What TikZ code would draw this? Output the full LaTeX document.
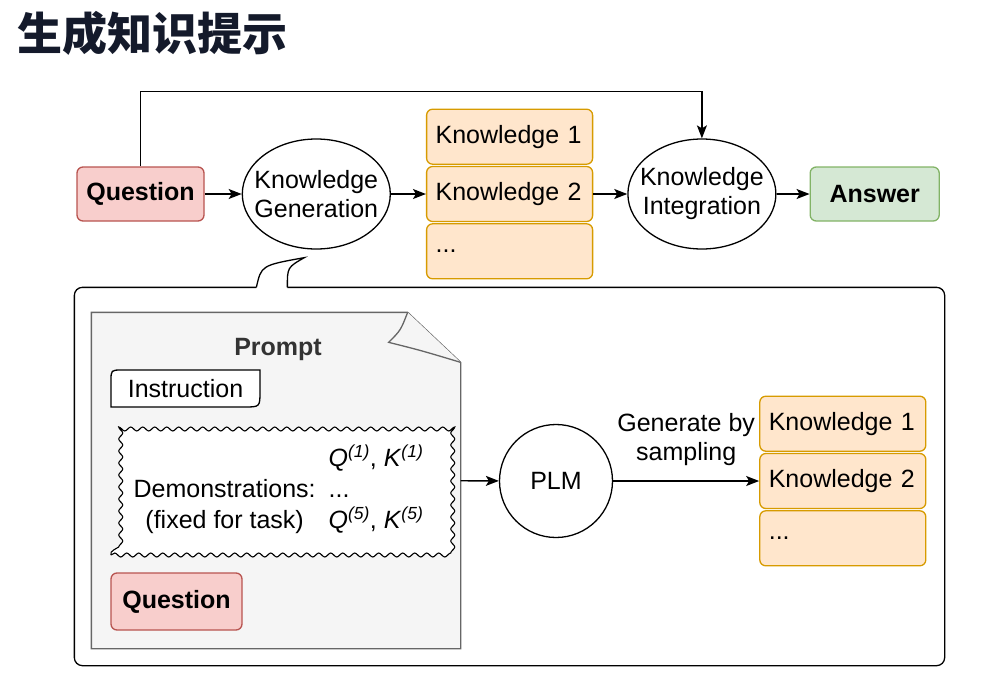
\documentclass[tikz,border=0pt]{standalone}
\usepackage{fontspec}
\setmainfont{Liberation Sans}
\newfontfamily\cjk{Noto Sans CJK SC}
\usetikzlibrary{arrows.meta,positioning,shapes.geometric,decorations.pathmorphing,calc}
\definecolor{qfill}{HTML}{F8CECC}
\definecolor{qline}{HTML}{B85450}
\definecolor{kfill}{HTML}{FFE6CC}
\definecolor{kline}{HTML}{D79B00}
\definecolor{afill}{HTML}{D5E8D4}
\definecolor{aline}{HTML}{82B366}
\definecolor{pfill}{HTML}{F5F5F5}
\definecolor{pline}{HTML}{666666}
\definecolor{ptext}{HTML}{333333}
\definecolor{titleink}{HTML}{141A2B}
\newcommand{\txt}{\fontsize{25}{29}\selectfont}
\newcommand{\qk}[1]{\textit{Q}\textsuperscript{\textit{(#1)}}, \textit{K}\textsuperscript{\textit{(#1)}}}

\begin{document}
\begin{tikzpicture}[x=1pt, y=-1pt, font=\txt, >={Stealth[length=13pt,width=10pt,inset=3pt]},
  line width=1.3pt,
  rbox/.style={rounded corners=6pt, minimum height=54pt, inner sep=0pt},
  qbox/.style={rbox, draw=qline, fill=qfill, minimum width=127pt, font=\txt\bfseries},
  abox/.style={rbox, draw=aline, fill=afill, minimum width=129pt, font=\txt\bfseries},
  kbox/.style={rbox, draw=kline, fill=kfill, minimum height=55pt, text width=148pt, inner xsep=9pt, align=left},
  proc/.style={ellipse, draw, minimum width=148pt, minimum height=110pt, inner xsep=-15pt, inner ysep=0pt, align=center},
  arr/.style={->}]
  \useasboundingbox (0,0) rectangle (994,686);
  \node[anchor=west, inner sep=0pt, text=titleink, font=\cjk\bfseries\fontsize{45}{45}\selectfont] (title) at (17,33) {生成知识提示};

  % top row
  \node[qbox] (q) at (140.5,194) {Question};
  \node[proc, right=37pt of q] (kg) {Knowledge\\Generation};
  \node[kbox, right=35pt of kg] (k2) {Knowledge 2};
  \node[kbox, above=1pt of k2] (k1) {Knowledge 1};
  \node[kbox, below=1pt of k2] (k3) {...};
  \node[proc, right=34pt of k2] (ki) {Knowledge\\Integration};
  \node[abox, right=33pt of ki] (ans) {Answer};
  \draw[arr] (q) -- (kg);
  \draw[arr] (kg) -- (k2);
  \draw[arr] (k2) -- (ki);
  \draw[arr] (ki) -- (ans);
  \draw[arr] (q.north) -- ++(0,-75) -| (ki.north);

  % callout under knowledge generation
  \node[minimum width=869pt, minimum height=377pt, inner sep=0pt] (detail) at (509.5,476.5) {};
  \coordinate (tl) at ($(detail.north west)+(182,0)$);
  \coordinate (tr) at ($(detail.north west)+(213,0)$);
  \coordinate (tip) at ($(kg.south)+(-12,8)$);
  \draw[rounded corners=8pt] (tr) -- (detail.north east) -- (detail.south east) -- (detail.south west) -- (detail.north west) -- (tl);
  \draw (tl) .. controls ($(tl)+(5,-22)$) .. (tip) .. controls ($(tr)+(0,-20)$) .. (tr);

  % prompt document
  \node[minimum width=368pt, minimum height=335pt, inner sep=0pt] (prompt) at (276,480.5) {};
  \filldraw[fill=pfill, draw=pline] (prompt.north west) -- ($(prompt.north east)+(-53,0)$) -- ($(prompt.north east)+(0,50)$) -- (prompt.south east) -- (prompt.south west) -- cycle;
  \filldraw[fill=pfill, draw=pline] ($(prompt.north east)+(-53,0)$) .. controls ($(prompt.north east)+(-60,18)$) .. ($(prompt.north east)+(-72,30)$) .. controls ($(prompt.north east)+(-40,38)$) .. ($(prompt.north east)+(0,50)$);
  \node[font=\txt\bfseries, text=ptext] (ptitle) at (278,349) {Prompt};
  \filldraw[fill=white] (111,407) -- (111,381) .. controls (111,370) .. (122,370) -- (260,370) -- (260,391) .. controls (260,407) .. (244,407) -- cycle node (ins) at (185.5,388.5) {Instruction};
  \node[draw, fill=white, line width=1.1pt, decorate, decoration={snake, segment length=12pt, amplitude=2pt},
    minimum width=335pt, minimum height=128pt, inner sep=0pt] (demo) at (278.5,491) {\fontsize{25}{31}\selectfont
    \begin{tabular}{@{}c@{\hspace{13pt}}l@{}}
      & \qk{1}\\
      Demonstrations: & ...\\
      (fixed for task) & \qk{5}
    \end{tabular}};
  \node[qbox, minimum width=131pt, minimum height=57pt] (q2) at (176.5,601.5) {Question};

  % model and sampled knowledge
  \node[circle, draw, minimum size=113pt, inner sep=0pt] (plm) at (556,481) {PLM};
  \node[kbox, right=146pt of plm] (lk2) {Knowledge 2};
  \node[kbox, above=1pt of lk2] (lk1) {Knowledge 1};
  \node[kbox, below=1pt of lk2] (lk3) {...};
  \draw[arr] (prompt) -- (plm);
  \draw[arr] (plm) -- node[above=15pt, inner sep=0pt, align=center] (gen) {Generate by\\sampling} (lk2);
\end{tikzpicture}
\end{document}
